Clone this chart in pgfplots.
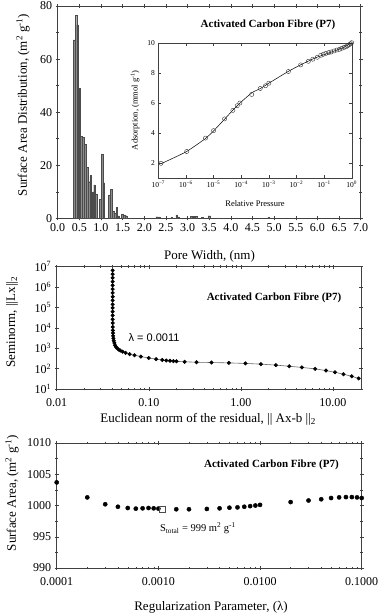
\documentclass[border=0pt]{standalone}
\usepackage{pgfplots}
\pgfplotsset{compat=1.18}
\usepackage{fontspec}
\setmainfont{Liberation Serif}
\newfontfamily\arialfont{Liberation Sans}
\begin{document}
\begin{tikzpicture}
\useasboundingbox (0pt,0pt) rectangle (379pt,-616pt);
\pgfplotsset{
  every axis/.append style={
    scale only axis,
    axis line style={black!75},
    every tick/.style={black!75},
    tick align=center,
    major tick length=4pt,
    minor tick length=2.5pt,
    ticklabel style={font=\fontsize{12}{14}\selectfont},
    label style={font=\fontsize{13}{15}\selectfont},
    /pgf/number format/assume math mode=true,
  },
}
% ---------------- top panel
\begin{axis}[
  at={(57.7pt,-218.3pt)}, anchor=south west,
  width=303pt, height=212.3pt,
  xmin=0, xmax=7, ymin=0, ymax=80,
  xtick={0,0.5,...,7}, ytick={0,20,40,60,80},
  minor y tick num=1,
  xticklabel style={/pgf/number format/.cd,fixed,fixed zerofill,precision=1},
  xlabel={Pore Width, (nm)},
  xlabel style={at={(axis description cs:0.501,-0.178)},anchor=center},
  ylabel={Surface Area Distribution, (m\textsuperscript{2} g\textsuperscript{-1})},
  ylabel style={at={(axis description cs:-0.1145,0.534)},anchor=center},
]
\addplot[ybar, bar width=0.038, fill=black!45, draw=black!70, line width=0.3pt] coordinates {
(0.377,67.2) (0.420,76.4) (0.463,72.9) (0.506,49.0) (0.549,30.8) (0.592,30.5)
(0.635,28.0) (0.678,19.2) (0.721,13.8) (0.764,16.1) (0.807,10.0) (0.850,12.6)
(0.893,9.2) (0.979,7.2) (1.022,24.1) (1.065,13.4) (1.194,8.8) (1.237,10.9)
(1.280,2.8) (1.323,1.9) (1.366,4.1) (1.409,0.9) (1.495,1.6) (1.538,1.3) (1.581,1.0)
(2.29,0.6) (2.35,0.5) (2.63,0.3) (2.75,1.3) (2.79,0.5) (3.08,0.7) (3.12,0.7)
(3.16,0.7) (3.20,0.7) (3.34,0.3) (3.50,1.0) (3.71,0.2) (4.87,0.3)
};
\node[font=\bfseries\fontsize{11}{13}\selectfont] at (axis description cs:0.694,0.910) {Activated Carbon Fibre (P7)};
\end{axis}
% ---------------- inset
\begin{axis}[
  at={(158.3pt,-177.7pt)}, anchor=south west,
  width=193.4pt, height=135pt,
  xmode=log, xmin=1e-7, xmax=1, ymin=1, ymax=10,
  tick align=inside,
  major tick length=3pt, minor tick length=0pt,
  xtick={1e-7,1e-6,1e-5,1e-4,1e-3,1e-2,1e-1,1},
  xticklabels={10\textsuperscript{−7},10\textsuperscript{−6},10\textsuperscript{−5},10\textsuperscript{−4},10\textsuperscript{−3},10\textsuperscript{−2},10\textsuperscript{−1},10\textsuperscript{0}},
  ytick={2,4,6,8,10}, minor ytick={3,5,7,9},
  ticklabel style={font=\fontsize{7.5}{9}\selectfont},
  label style={font=\fontsize{8.5}{10}\selectfont},
  xlabel={Relative Pressure},
  xlabel style={at={(axis description cs:0.5,-0.195)},anchor=center},
  ylabel={Adsorption, (mmol g\textsuperscript{-1})},
  ylabel style={at={(axis description cs:-0.12,0.5)},anchor=center},
  axis background/.style={fill=white},
]
\addplot[black, line width=0.5pt, smooth, tension=0.3] coordinates {
(1.25e-7,1.93) (1e-6,2.72) (5e-6,3.6) (1e-5,4.12) (2.5e-5,4.9) (5e-5,5.5)
(1e-4,6.05) (2.5e-4,6.68) (5e-4,6.95) (1e-3,7.3) (5e-3,8.08) (0.014,8.52)
(0.05,9.0) (0.2,9.4) (0.5,9.68) (1,10)
};
\addplot[only marks, mark=o, mark size=2.1pt, black!80, line width=0.4pt] coordinates {
(1.25e-7,1.96) (1.07e-6,2.75) (5.1e-6,3.64) (1e-5,4.14) (2.5e-5,4.92) (5e-5,5.49)
(7.2e-5,5.80) (9e-5,5.98) (2.4e-4,6.55) (4.9e-4,6.95) (7.6e-4,7.13) (1e-3,7.30)
(5.1e-3,8.08) (0.0142,8.52) (0.027,8.76) (0.039,8.90) (0.057,9.03) (0.076,9.16)
(0.094,9.23) (0.117,9.29) (0.147,9.34) (0.18,9.38) (0.23,9.45) (0.29,9.51)
(0.36,9.56) (0.43,9.62) (0.53,9.69) (0.62,9.73) (0.71,9.80) (0.81,9.87)
(0.91,9.93) (1.0,10.0)
};
\end{axis}
% ---------------- middle panel
\begin{axis}[
  at={(56.7pt,-389pt)}, anchor=south west,
  width=304pt, height=122.5pt,
  xmode=log, ymode=log,
  xmin=0.01, xmax=20, ymin=10, ymax=1e7,
  xtick={0.01,0.1,1,10}, xticklabels={0.01,0.10,1.00,10.00},
  ytick={1e1,1e2,1e3,1e4,1e5,1e6,1e7},
  yticklabels={10\textsuperscript{1},10\textsuperscript{2},10\textsuperscript{3},10\textsuperscript{4},10\textsuperscript{5},10\textsuperscript{6},10\textsuperscript{7}},
  yminorticks=false,
  xticklabel style={yshift=-4pt},
  xlabel={Euclidean norm of the residual, || Ax-b ||\textsubscript{2}},
  xlabel style={at={(axis description cs:0.498,-0.245)},anchor=center},
  ylabel={Seminorm, ||Lx||\textsubscript{2}},
  ylabel style={at={(axis description cs:-0.147,0.547)},anchor=center},
]
\addplot[black!60, line width=0.6pt, mark=*, mark size=1.7pt, mark options={black,fill=black}] coordinates {
(0.0405,6.5e6) (0.0405,4.2e6) (0.0405,2.8e6) (0.0405,1.8e6) (0.0405,1.2e6)
(0.0405,7.8e5) (0.0405,5.1e5) (0.0405,3.3e5) (0.0405,2.2e5) (0.0405,1.4e5)
(0.0405,9.3e4) (0.0405,6.1e4) (0.0405,4.0e4) (0.0405,2.6e4) (0.0406,1.7e4)
(0.0406,1.1e4) (0.0407,7.5e3) (0.0408,5500) (0.041,4000) (0.0413,3000)
(0.0417,2300) (0.0423,1800) (0.043,1400) (0.044,1150) (0.0455,980) (0.047,860)
(0.049,760) (0.052,670) (0.056,590) (0.062,510) (0.07,450) (0.082,390)
(0.1,330) (0.12,290) (0.14,265) (0.155,250) (0.17,240) (0.185,232) (0.2,226)
(0.245,215) (0.33,205) (0.48,198) (0.74,190) (1.12,179) (1.65,165) (2.4,148)
(3.35,130) (4.6,114) (6.4,97) (8.4,80) (10.5,66) (13,53) (16,42) (19,33)
};
\node[font=\bfseries\fontsize{11}{13}\selectfont] at (axis description cs:0.715,0.743) {Activated Carbon Fibre (P7)};
\node[font=\arialfont\fontsize{11}{13}\selectfont, anchor=west] at (axis description cs:0.225,0.416) {λ = 0.0011};
\end{axis}
% ---------------- bottom panel
\begin{axis}[
  at={(56.7pt,-568pt)}, anchor=south west,
  width=305pt, height=125pt,
  xmode=log, xmin=1e-4, xmax=0.1, ymin=990, ymax=1010,
  xtick={1e-4,1e-3,1e-2,1e-1}, xticklabels={0.0001,0.0010,0.0100,0.1000},
  ytick={990,995,1000,1005,1010}, minor y tick num=1,
  yticklabel style={/pgf/number format/.cd,1000 sep={}},
  xticklabel style={yshift=-4pt},
  xlabel={Regularization Parameter, (λ)},
  xlabel style={at={(axis description cs:0.506,-0.312)},anchor=center},
  ylabel={Surface Area, (m\textsuperscript{2} g\textsuperscript{-1})},
  ylabel style={at={(axis description cs:-0.1466,0.6)},anchor=center},
]
\addplot[only marks, mark=*, mark size=2.1pt, black] coordinates {
(1e-4,1003.7) (2e-4,1001.3) (3e-4,1000.2) (4e-4,999.8) (5e-4,999.6) (6e-4,999.5)
(7e-4,999.55) (8e-4,999.6) (9e-4,999.55) (1e-3,999.5) (1.5e-3,999.4) (2e-3,999.4)
(3e-3,999.45) (4e-3,999.55) (5e-3,999.65) (6e-3,999.7) (7e-3,999.8) (8e-3,999.9)
(9e-3,1000.0) (0.01,1000.1) (0.02,1000.55) (0.03,1000.8) (0.04,1001.0) (0.05,1001.2)
(0.06,1001.3) (0.07,1001.35) (0.08,1001.35) (0.09,1001.3) (0.1,1001.2)
};
\addplot[only marks, mark=square, mark size=3pt, black!70, line width=0.5pt] coordinates {(1.1e-3,999.4)};
\node[font=\bfseries\fontsize{11}{13}\selectfont] at (axis description cs:0.704,0.824) {Activated Carbon Fibre (P7)};
\node[font=\fontsize{10.5}{12}\selectfont] at (axis cs:0.00245,996.3) {S\textsubscript{total} = 999 m\textsuperscript{2} g\textsuperscript{-1}};
\end{axis}
\end{tikzpicture}
\end{document}
